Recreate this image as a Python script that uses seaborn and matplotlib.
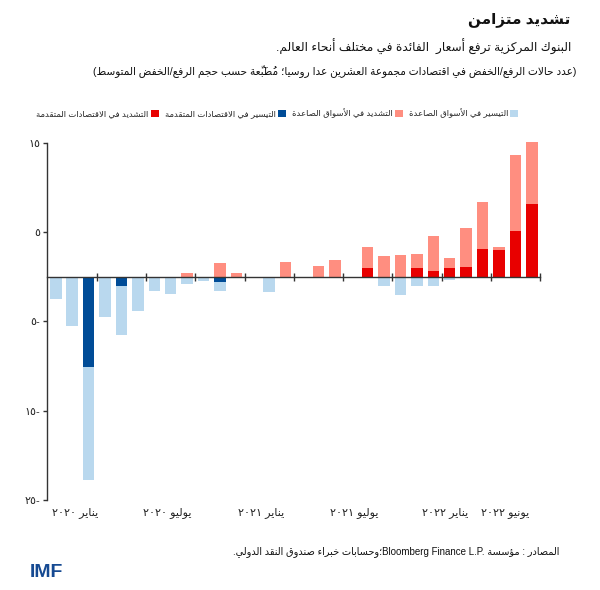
import re
import numpy as np
import pandas as pd
import matplotlib
matplotlib.use("Agg")
import matplotlib.pyplot as plt
from matplotlib.patches import Patch
import seaborn as sns

# ---- data (Jan 2020 .. Jun 2022) ----
months = [str(p) for p in pd.period_range("2020-01", "2022-06", freq="M")]
em_ease = [-2.5, -5.5, -12.7, -4.5, -5.5, -3.8, -1.6, -1.9, -0.8, -0.5,
           -1.0, 0, 0, -1.75, 0, 0, 0, 0, 0, 0,
           -1.0, -2.0, -1.0, -1.0, -0.4, 0, 0, 0, 0, 0]
ae_ease = [0, 0, -10.1, 0, -1.0, 0, 0, 0, 0, 0,
           -0.6, 0, 0, 0, 0, 0, 0, 0, 0, 0,
           0, 0, 0, 0, 0, 0, 0, 0, 0, 0]
em_tight = [0, 0, 0, 0, 0, 0, 0, 0, 0.45, 0,
            1.5, 0.45, 0, 0, 1.7, 0, 1.15, 1.9, 0, 2.3,
            2.35, 2.4, 1.55, 3.95, 1.05, 4.3, 5.25, 0.3, 8.45, 7.0]
ae_tight = [0, 0, 0, 0, 0, 0, 0, 0, 0, 0,
            0, 0, 0, 0, 0, 0, 0, 0, 0, 1.0,
            0, 0, 1.0, 0.65, 1.0, 1.1, 3.1, 3.0, 5.15, 8.1]

month_labels = ["يناير ٢٠٢٠", "يوليو ٢٠٢٠", "يناير ٢٠٢١",
                "يوليو ٢٠٢١", "يناير ٢٠٢٢", "يونيو ٢٠٢٢"]
month_label_pos = [1.15, 6.8, 12.5, 18.2, 23.7, 27.4]
ytick_vals = [15, 5, -5, -15, -25]

leg_labels = {
    "em_ease": "التيسير في الأسواق الصاعدة",
    "em_tight": "التشديد في الأسواق الصاعدة",
    "ae_ease": "التيسير في الاقتصادات المتقدمة",
    "ae_tight": "التشديد في الاقتصادات المتقدمة",
}
colors = {"em_ease": "#b9d8ee", "ae_ease": "#004c97",
          "em_tight": "#ff8e80", "ae_tight": "#e80000"}

title = "تشديد متزامن"
subtitle = "البنوك المركزية ترفع أسعار  الفائدة في مختلف أنحاء العالم."
note = "(عدد حالات الرفع/الخفض في اقتصادات مجموعة العشرين عدا روسيا؛ مُطَبَّعة حسب حجم الرفع/الخفض المتوسط)"
source = "المصادر : مؤسسة Bloomberg Finance L.P.؛وحسابات خبراء صندوق النقد الدولي."


# ---- minimal arabic shaping + rtl reordering (matplotlib has no bidi) ----
_seq = ([(0x0621, 1), (0x0622, 2), (0x0623, 2), (0x0624, 2), (0x0625, 2),
         (0x0626, 4), (0x0627, 2), (0x0628, 4), (0x0629, 2)]
        + [(c, 4) for c in range(0x062A, 0x062F)]
        + [(0x062F, 2), (0x0630, 2), (0x0631, 2), (0x0632, 2)]
        + [(c, 4) for c in range(0x0633, 0x063B)]
        + [(c, 4) for c in range(0x0641, 0x0648)]
        + [(0x0648, 2), (0x0649, 2), (0x064A, 4)])
FORMS = {}
_b = 0xFE80
for cp, n in _seq:
    FORMS[chr(cp)] = (_b, n)
    _b += n
LAMALEF = {"\u0622": 0xFEF5, "\u0623": 0xFEF7, "\u0625": 0xFEF9, "\u0627": 0xFEFB}


def is_mark(c):
    return 0x064B <= ord(c) <= 0x0652 or c == "\u0670"


def shape(s):
    chars = list(s)
    out = []
    i = 0
    prev_joins = False  # previous letter can connect to the next one
    while i < len(chars):
        c = chars[i]
        if is_mark(c):
            out.append(c)
            i += 1
            continue
        if c not in FORMS:
            out.append(c)
            prev_joins = False
            i += 1
            continue
        base, n = FORMS[c]
        j = i + 1
        while j < len(chars) and is_mark(chars[j]):
            j += 1
        nxt = chars[j] if j < len(chars) else None
        jp = prev_joins and n >= 2
        if c == "\u0644" and nxt in LAMALEF:
            out.append(chr(LAMALEF[nxt] + (1 if jp else 0)))
            out.extend(chars[i + 1:j])
            prev_joins = False
            i = j + 1
            continue
        jn = n == 4 and nxt in FORMS and FORMS[nxt][1] >= 2
        if jp and jn:
            f = base + 3
        elif jp:
            f = base + 1
        elif jn:
            f = base + 2
        else:
            f = base
        out.append(chr(f))
        prev_joins = jn
        i += 1
    return "".join(out)


LTR = re.compile(r"[A-Za-z0-9\u0660-\u0669](?:[A-Za-z0-9\u0660-\u0669 .]*[A-Za-z0-9\u0660-\u0669.])?")
MIRROR = {"(": ")", ")": "("}


def rev_rtl(t):
    # clusters are reversed; marks go in front of their base so they land on it
    clusters = []
    for c in t:
        if is_mark(c) and clusters:
            clusters[-1].insert(0, c)
        else:
            clusters.append([MIRROR.get(c, c)])
    return "".join("".join(cl) for cl in reversed(clusters))


def ar(s):
    s = shape(s)
    parts, pos = [], 0
    for m in LTR.finditer(s):
        if m.start() > pos:
            parts.append(("r", s[pos:m.start()]))
        parts.append(("l", m.group()))
        pos = m.end()
    if pos < len(s):
        parts.append(("r", s[pos:]))
    return "".join(t if k == "l" else rev_rtl(t) for k, t in reversed(parts))


def ar_num(v):
    d = "".join(chr(0x0660 + int(ch)) for ch in str(abs(v)))
    return d + "-" if v < 0 else d


# ---- plot ----
sns.set_theme(style="white")
plt.rcParams["font.family"] = ["Liberation Sans", "DejaVu Sans"]

df = pd.DataFrame({"month": months, "em_ease": em_ease, "ae_ease": ae_ease,
                   "em_tight": em_tight, "ae_tight": ae_tight})
df["neg_total"] = df["em_ease"] + df["ae_ease"]
df["pos_total"] = df["em_tight"] + df["ae_tight"]

fig = plt.figure(figsize=(6, 5.9), dpi=100)
ax = fig.add_axes([0.0783, 0.1525, 0.8217, 0.6102])

# stacked look: totals first, the advanced-economy part drawn over them
bw = 0.7
sns.barplot(data=df, x="month", y="pos_total", color=colors["em_tight"],
            saturation=1, width=bw, ax=ax, linewidth=0)
sns.barplot(data=df, x="month", y="ae_tight", color=colors["ae_tight"],
            saturation=1, width=bw, ax=ax, linewidth=0)
sns.barplot(data=df, x="month", y="neg_total", color=colors["em_ease"],
            saturation=1, width=bw, ax=ax, linewidth=0)
sns.barplot(data=df, x="month", y="ae_ease", color=colors["ae_ease"],
            saturation=1, width=bw, ax=ax, linewidth=0)

ax.set_xlim(-0.535, 29.5)
ax.set_ylim(-25, 15.3)
ax.set_xlabel("")
ax.set_ylabel("")

for s in ["top", "right"]:
    ax.spines[s].set_visible(False)
ax.spines["left"].set_bounds(-25, 15)
ax.spines["left"].set_color("#333333")
ax.spines["left"].set_linewidth(1)
ax.spines["bottom"].set_position(("data", 0))
ax.spines["bottom"].set_color("#333333")
ax.spines["bottom"].set_linewidth(1)

ax.set_yticks(ytick_vals)
ax.set_yticklabels([ar_num(v) for v in ytick_vals], fontsize=8)
ax.tick_params(axis="y", left=True, direction="out", length=3, width=1,
               color="#333333", pad=2)

ax.set_xticks(np.arange(2.5, len(months), 3))
ax.set_xticklabels([])
ax.tick_params(axis="x", bottom=True, direction="inout", length=6, width=1,
               color="#333333")

for pos, lab in zip(month_label_pos, month_labels):
    ax.text(pos, -0.035, ar(lab), transform=ax.get_xaxis_transform(),
            ha="center", va="center", fontsize=8, color="#222222")

# legend (rtl: swatch on the right of each label)
order = ["ae_tight", "ae_ease", "em_tight", "em_ease"]
handles = [Patch(facecolor=colors[k], edgecolor="none") for k in order]
fig.legend(handles, [ar(leg_labels[k]) for k in order], loc="center",
           bbox_to_anchor=(0.462, 0.808), ncol=4, frameon=False,
           markerfirst=False, fontsize=6.1, handlelength=0.9,
           handleheight=0.9, handletextpad=0.3, columnspacing=0.7)

fig.text(0.95, 0.966, ar(title), ha="right", va="center", fontsize=11,
         fontweight="bold", color="#111111")
fig.text(0.953, 0.920, ar(subtitle), ha="right", va="center", fontsize=8.7,
         color="#111111")
fig.text(0.96, 0.878, ar(note), ha="right", va="center", fontsize=7.6,
         color="#111111")
fig.text(0.933, 0.066, ar(source), ha="right", va="center", fontsize=7,
         color="#111111")
fig.text(0.05, 0.030, "IMF", ha="left", va="center", fontsize=14,
         fontweight="bold", color="#164a92")

fig.savefig("out.png", dpi=100)
